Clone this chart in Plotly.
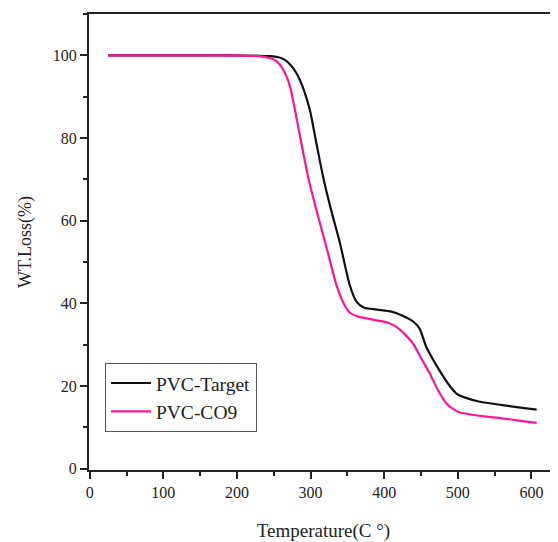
import plotly.graph_objects as go

# Data (Temperature °C, WT.Loss %)
target_x = [25, 150, 230, 245, 255, 265, 273, 280, 286, 292, 299, 308, 317, 328, 340, 353, 362, 372,
            390, 410, 425, 440, 448, 457, 466, 475, 487, 498, 510, 530, 560, 585, 607]
target_y = [100, 100, 99.9, 99.8, 99.6, 98.9, 97.6, 95.9, 93.8, 91.0, 86.8, 78.6, 70.6, 62.5, 54.5, 44.5, 40.5, 39.0,
            38.5, 38.0, 37.0, 35.5, 33.9, 29.5, 26.5, 23.8, 20.5, 18.2, 17.2, 16.2, 15.4, 14.8, 14.3]

co9_x = [25, 150, 230, 250, 258, 265, 272, 278.5, 287.6, 296.6, 308, 321.5, 335, 345, 353, 365,
         389.5, 405, 416.6, 428, 439, 450, 462, 473, 484.5, 495, 503, 530, 560, 585, 607]
co9_y = [100, 100, 99.8, 99.0, 97.8, 95.8, 92.5, 87.0, 78.6, 70.6, 62.5, 53.6, 44.5, 40.0, 37.8, 36.8,
         35.9, 35.3, 34.3, 32.5, 30.3, 26.8, 23.0, 19.0, 15.8, 14.3, 13.6, 12.8, 12.2, 11.6, 11.1]

x_ticks = [0, 100, 200, 300, 400, 500, 600]
y_ticks = [0, 20, 40, 60, 80, 100]

SERIF = "Liberation Serif, Times New Roman, serif"

fig = go.Figure()
fig.add_trace(go.Scatter(x=target_x, y=target_y, mode="lines", name="PVC-Target",
                         line=dict(color="#111111", width=2.2, shape="spline", smoothing=0.7)))
fig.add_trace(go.Scatter(x=co9_x, y=co9_y, mode="lines", name="PVC-CO9",
                         line=dict(color="#FF1493", width=2.2, shape="spline", smoothing=0.7)))

# page body has an 8px margin, so the figure is sized to fill the rest of the window
fig.update_layout(
    width=550, height=534,
    margin=dict(l=81, r=0, t=6, b=72),
    paper_bgcolor="white", plot_bgcolor="white",
    font=dict(family=SERIF, color="#222222", size=16),
    showlegend=True,
    legend=dict(x=0.034, y=0.235, xanchor="left", yanchor="top",
                bgcolor="white", bordercolor="#555555", borderwidth=1,
                font=dict(family=SERIF, size=19.5, color="#222222"),
                itemwidth=40, tracegroupgap=0),
)

fig.update_xaxes(
    range=[-1, 636], tickvals=x_ticks, ticktext=[str(v) for v in x_ticks],
    showgrid=False, zeroline=False,
    showline=True, linecolor="#222222", linewidth=2, mirror=True,
    ticks="outside", ticklen=7, tickwidth=1.5, tickcolor="#222222",
    minor=dict(dtick=50, tick0=0, ticks="outside", ticklen=4, tickwidth=1.5, tickcolor="#222222"),
    tickfont=dict(family=SERIF, size=16, color="#222222"),
    title=dict(text="Temperature(C °)", font=dict(family=SERIF, size=19, color="#222222"), standoff=23),
)
fig.update_yaxes(
    range=[-0.3, 110], tickvals=y_ticks, ticktext=[str(v) for v in y_ticks],
    showgrid=False, zeroline=False,
    showline=True, linecolor="#222222", linewidth=2, mirror=False,
    ticks="outside", ticklen=7, tickwidth=1.5, tickcolor="#222222",
    minor=dict(dtick=10, tick0=0, ticks="outside", ticklen=4, tickwidth=1.5, tickcolor="#222222"),
    tickfont=dict(family=SERIF, size=16, color="#222222"),
    title=dict(text="WT.Loss(%)", font=dict(family=SERIF, size=18, color="#222222"), standoff=16),
)

fig.write_html("out.html")
